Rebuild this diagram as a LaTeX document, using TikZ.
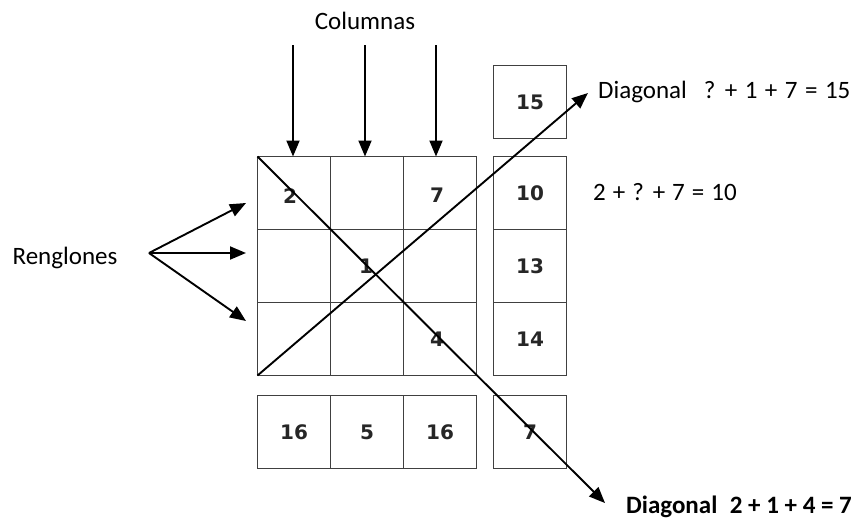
\documentclass[tikz,border=0pt]{standalone}
\usepackage{fontspec}
\setmainfont{Carlito}
\newfontfamily\numfont{DejaVu Sans}
\usetikzlibrary{arrows.meta}
\tikzset{
  cell/.style={draw=black!75, line width=1.1pt, minimum width=73pt, minimum height=73pt, inner sep=0pt, outer sep=0pt, font=\numfont\bfseries\fontsize{20}{20}\selectfont, text=black!85},
  arr/.style={line width=1.9pt, -{Triangle[length=16pt,width=13pt]}},
  lbl/.style={font=\fontsize{25}{25}\selectfont, inner sep=0pt},
  num/.style={font=\numfont\bfseries\fontsize{20}{20}\selectfont, inner sep=0pt, text=black!85}
}
\begin{document}
\begin{tikzpicture}[x=1pt,y=-1pt]
\useasboundingbox (0,0) rectangle (856,525);
% main grid
\node[cell] (c11) at (294,193) {};
\node[cell] (c12) at (367,193) {};
\node[cell] (c13) at (440,193) {};
\node[cell] (c21) at (294,266) {};
\node[cell] (c22) at (367,266) {};
\node[cell] (c23) at (440,266) {};
\node[cell] (c31) at (294,339) {};
\node[cell] (c32) at (367,339) {};
\node[cell] (c33) at (440,339) {};
\node[num] (n2) at (290,196) {2};
\node[num] (n7) at (437,195) {7};
\node[num] (n1) at (366,266) {1};
\node[num] (n4) at (437,339) {4};
% right column
\node[cell] (r0) at (530,102) {15};
\node[cell] (r1) at (530,193) {10};
\node[cell] (r2) at (530,266) {13};
\node[cell] (r3) at (530,339) {14};
% bottom row
\node[cell] (b1) at (294,432) {16};
\node[cell] (b2) at (367,432) {5};
\node[cell] (b3) at (440,432) {16};
\node[cell] (b4) at (530,432) {7};
% labels
\node[lbl] (col) at (365,21) {Columnas};
\node[lbl] (ren) at (65,258) {Renglones};
\node[lbl, anchor=west] (d1) at (598,92) {\spaceskip=0.3em Diagonal\hspace{17pt}? + 1 + 7 = 15};
\node[lbl, anchor=west] (s1) at (593,192) {\spaceskip=0.28em 2 + ? + 7 = 10};
\node[lbl, anchor=east, font=\bfseries\fontsize{25}{25}\selectfont] (d2) at (852,507) {Diagonal\hspace{0.5em}2 + 1 + 4 = 7};
% column arrows
\coordinate (ca1) at (293,45);
\coordinate (ca2) at (365,45);
\coordinate (ca3) at (436,45);
\draw[arr] (ca1) -- (ca1 |- c11.north);
\draw[arr] (ca2) -- (ca2 |- c12.north);
\draw[arr] (ca3) -- (ca3 |- c13.north);
% row arrows
\coordinate (ro) at (149,253);
\coordinate (rt1) at (246,203);
\coordinate (rt2) at (246,253);
\coordinate (rt3) at (246,321);
\draw[arr] (ro) -- (rt1);
\draw[arr] (ro) -- (rt2);
\draw[arr] (ro) -- (rt3);
% diagonals
\coordinate (dt1) at (605,503);
\coordinate (dt2) at (588,93);
\draw[arr] (c11.north west) -- (dt1);
\draw[arr] (c31.south west) -- (dt2);
\end{tikzpicture}
\end{document}
